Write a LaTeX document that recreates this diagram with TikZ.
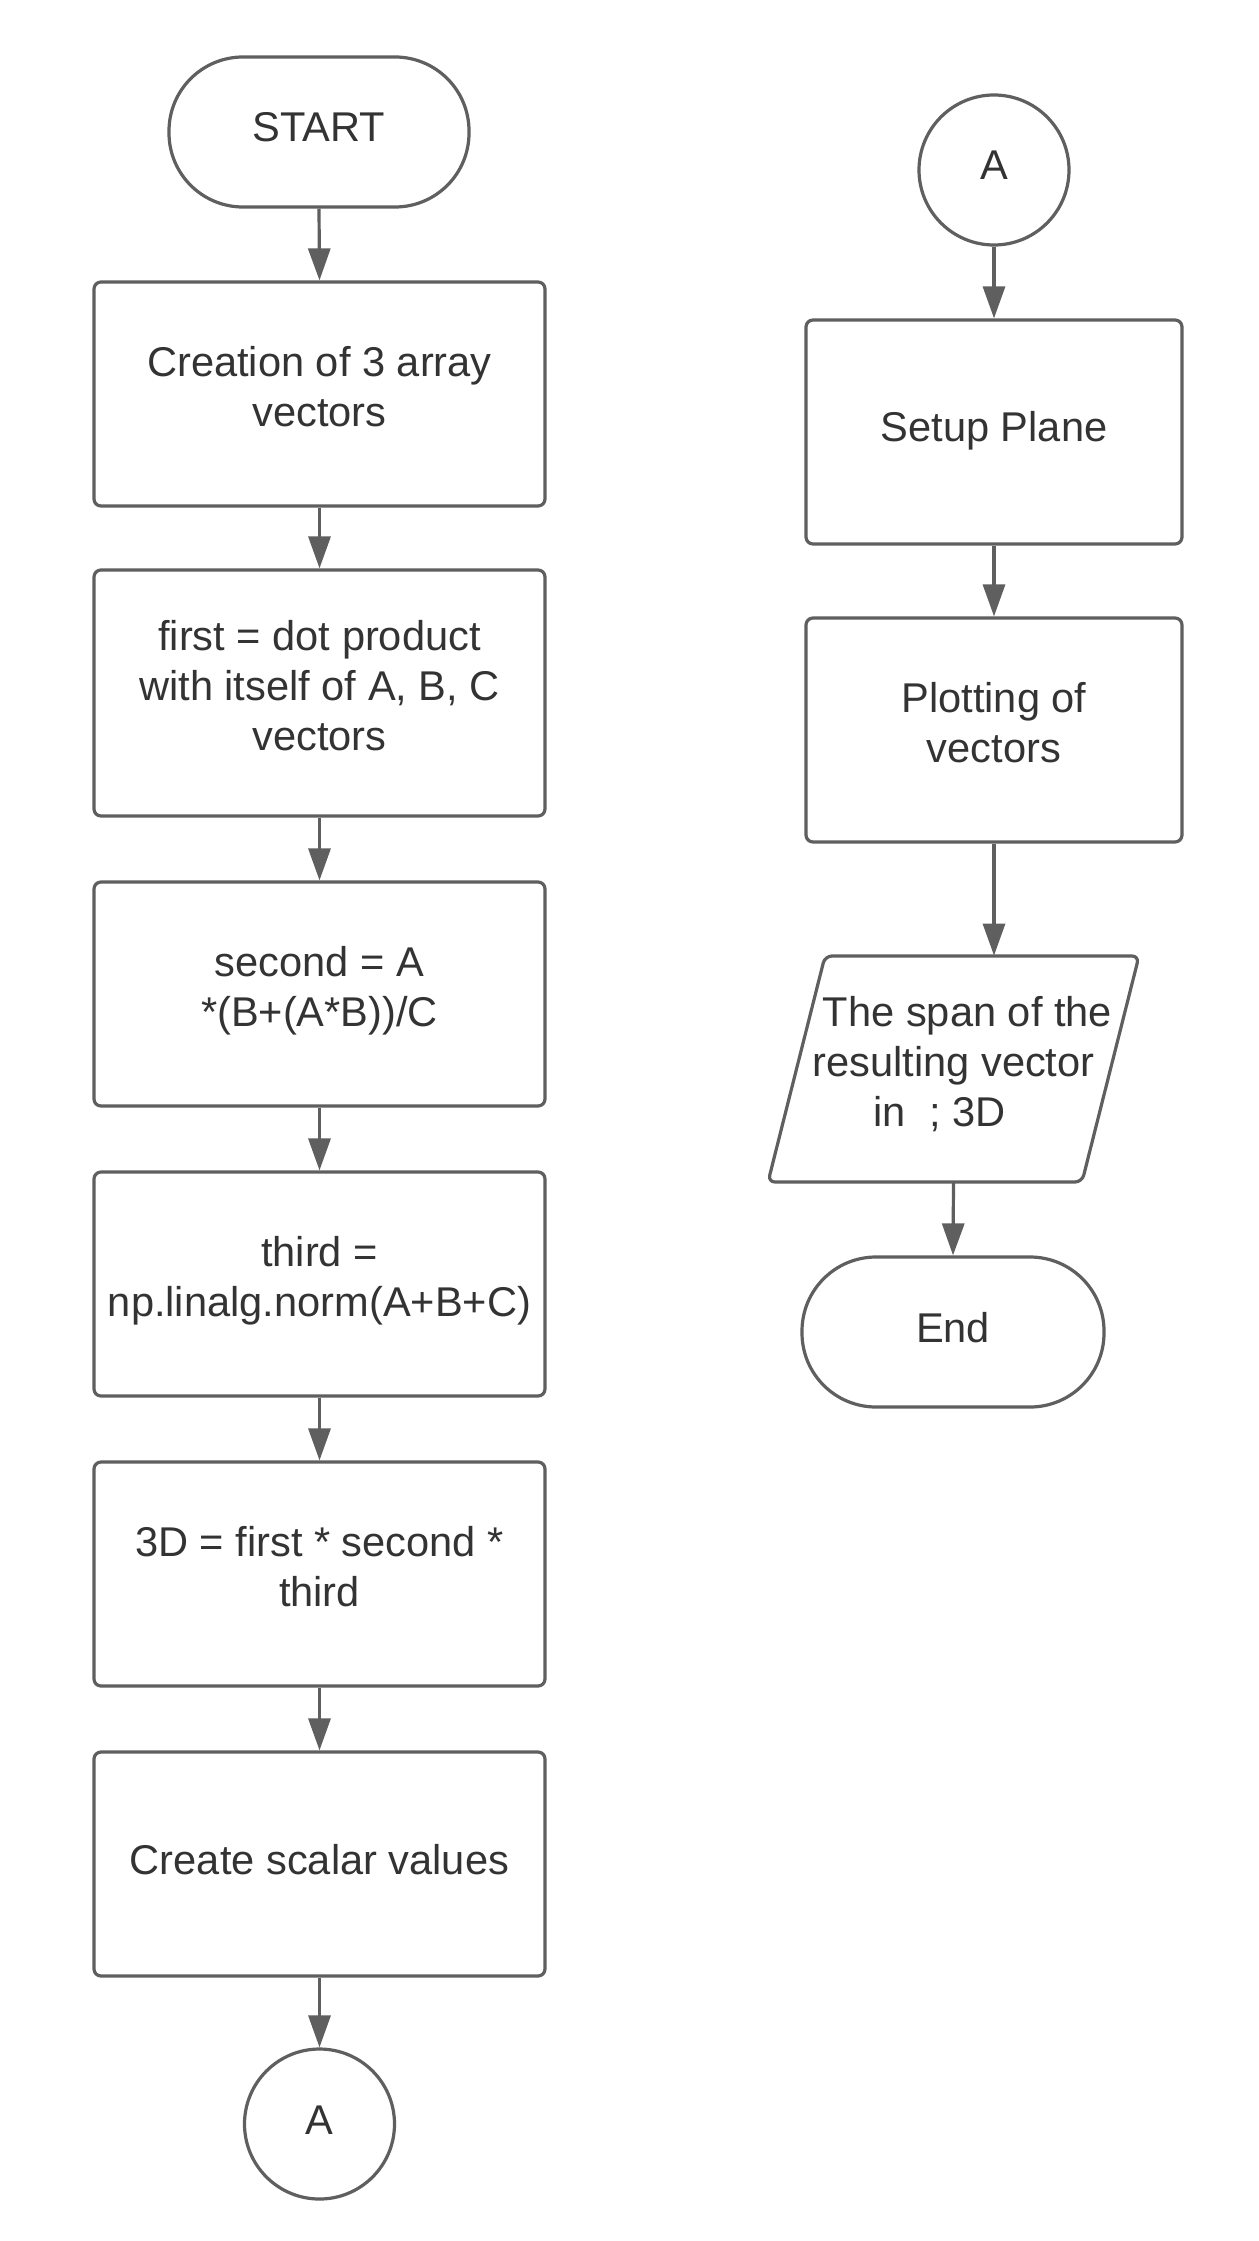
\documentclass[tikz,border=0pt]{standalone}
\usepackage{fontspec}
\setmainfont{Liberation Sans}
\usetikzlibrary{arrows.meta,shapes.geometric}
\definecolor{ln}{HTML}{5F5F5F}
\definecolor{tx}{HTML}{333333}
\newcommand{\lnstrut}{\rule[-7.5pt]{0pt}{25pt}}
\begin{document}
\begin{tikzpicture}[x=0.5pt,y=-0.5pt,
  txt/.style={text=tx, font=\fontsize{20.8}{25}\selectfont, align=center, inner sep=2pt,
    execute at begin node=\lnstrut, execute at end node=\lnstrut},
  base/.style={txt, draw=ln, line width=1.6pt},
  proc/.style={base, rectangle, rounded corners=3.5pt, minimum width=225.5pt, minimum height=112pt},
  term/.style={base, rectangle, rounded corners=37pt, minimum width=150pt, minimum height=75pt},
  conn/.style={base, circle, minimum size=75pt},
  io/.style={txt, rectangle, minimum width=185.5pt, minimum height=113pt},
  outline/.style={draw=ln, line width=1.6pt, rounded corners=3.5pt},
  arr/.style={draw=ln, line width=1.6pt, -{Triangle[length=16pt,width=11pt]}}]
\fill[white] (0,0) rectangle (1258,2241);
\useasboundingbox (0,0) rectangle (1258,2241);
% left column
\node[term] (start) at (319,132) {START};
\node[proc] (b1) at (319.5,394) {Creation of 3 array\\vectors};
\node[proc, minimum height=123pt] (b2) at (319.5,693) {first = dot product\\with itself of A, B, C\\vectors};
\node[proc] (b3) at (319.5,994) {second = A\\*(B+(A*B))/C};
\node[proc] (b4) at (319.5,1284) {third =\\np.linalg.norm(A+B+C)};
\node[proc] (b5) at (319.5,1574) {3D = first * second *\\third};
\node[proc] (b6) at (319.5,1864) {Create scalar values};
\node[conn] (a1) at (319.5,2124) {A};
% right column
\node[conn] (a2) at (994,170) {A};
\node[proc, minimum width=188pt] (setup) at (994,432) {Setup Plane};
\node[proc, minimum width=188pt] (plot) at (994,730) {Plotting of\\vectors};
\node[io] (span) at (953.5,1069) {\hspace*{14pt}The span of the\\resulting vector\\in\ \ ; 3D\hspace*{14pt}};
\draw[outline] (825,956) -- (1139,956) -- (1082,1182) -- (768,1182) -- cycle;
\node[term, minimum width=151pt] (end) at (953,1332) {End};
% connectors
\draw[arr] (start.south) -- (b1.north);
\draw[arr] (b1.south) -- (b2.north);
\draw[arr] (b2.south) -- (b3.north);
\draw[arr] (b3.south) -- (b4.north);
\draw[arr] (b4.south) -- (b5.north);
\draw[arr] (b5.south) -- (b6.north);
\draw[arr] (b6.south) -- (a1.north);
\draw[arr] (a2.south) -- (setup.north);
\draw[arr] (setup.south) -- (plot.north);
\draw[arr] (plot.south) -- (plot.south |- span.north);
\draw[arr] (span.south) -- (end.north);
\end{tikzpicture}
\end{document}
